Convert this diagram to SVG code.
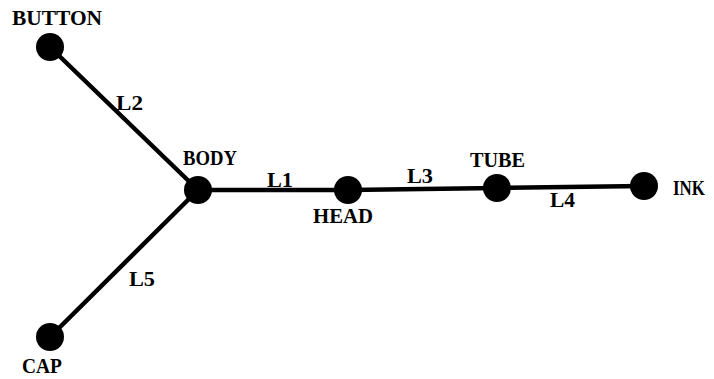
<svg xmlns="http://www.w3.org/2000/svg" width="714" height="379" viewBox="0 0 714 379">
<style>
.e{stroke:#000;stroke-width:4.5;fill:none;stroke-linecap:round}
.n{fill:#000}
.t{font-family:"Liberation Serif","DejaVu Serif",serif;font-weight:bold;font-size:21px;fill:#000}
</style>
<rect width="714" height="379" fill="#fff"/>
<g id="connectors">
<line class="e" x1="50" y1="47" x2="198" y2="190"/>
<line class="e" x1="198" y1="190" x2="348" y2="190"/>
<line class="e" x1="348" y1="190" x2="497" y2="188"/>
<line class="e" x1="497" y1="188" x2="644" y2="186"/>
<line class="e" x1="198" y1="190" x2="50" y2="337"/>
<text class="t" x="116" y="110" textLength="27" lengthAdjust="spacingAndGlyphs">L2</text>
<text class="t" x="267" y="187" textLength="26" lengthAdjust="spacingAndGlyphs">L1</text>
<text class="t" x="407" y="183" textLength="26" lengthAdjust="spacingAndGlyphs">L3</text>
<text class="t" x="550" y="207" textLength="25" lengthAdjust="spacingAndGlyphs">L4</text>
<text class="t" x="129" y="286" textLength="26" lengthAdjust="spacingAndGlyphs">L5</text>
</g>
<g id="button"><circle class="n" cx="50" cy="47" r="14"/><text class="t" x="12" y="25" textLength="90" lengthAdjust="spacingAndGlyphs">BUTTON</text></g>
<g id="body"><circle class="n" cx="198" cy="190" r="14"/><text class="t" x="183" y="165" textLength="54" lengthAdjust="spacingAndGlyphs">BODY</text></g>
<g id="head"><circle class="n" cx="348" cy="190" r="14"/><text class="t" x="313" y="223" textLength="60" lengthAdjust="spacingAndGlyphs">HEAD</text></g>
<g id="tube"><circle class="n" cx="497" cy="188" r="14"/><text class="t" x="470" y="167" textLength="55" lengthAdjust="spacingAndGlyphs">TUBE</text></g>
<g id="ink"><circle class="n" cx="644" cy="186" r="14"/><text class="t" x="673" y="195" textLength="32" lengthAdjust="spacingAndGlyphs">INK</text></g>
<g id="cap"><circle class="n" cx="50" cy="337" r="14"/><text class="t" x="22" y="373" textLength="40" lengthAdjust="spacingAndGlyphs">CAP</text></g>
</svg>
